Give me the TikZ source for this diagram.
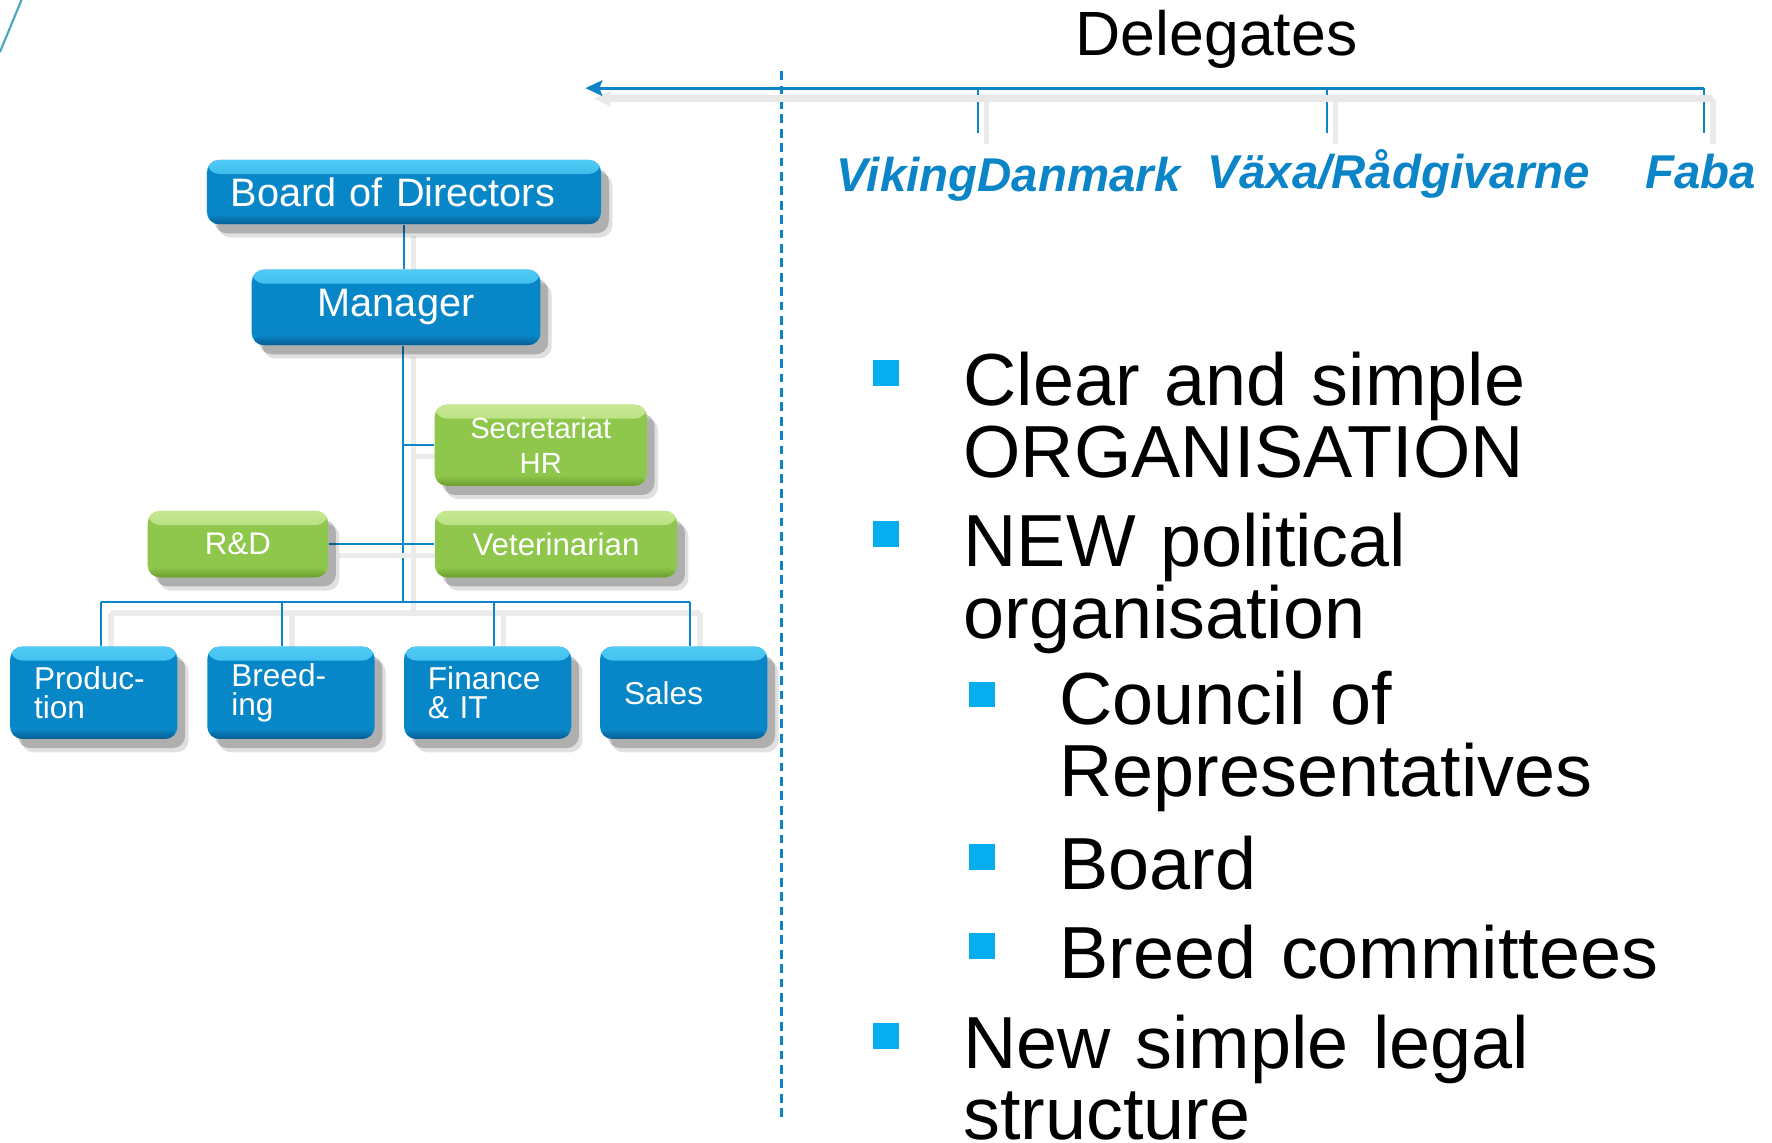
\documentclass[tikz,border=0pt]{standalone}
\usepackage{fontspec}
\setmainfont{Liberation Sans}
\usetikzlibrary{arrows.meta,shadows,backgrounds}
\definecolor{orgblue}{HTML}{0887C8}
\definecolor{orgbluehi}{HTML}{4FCBF6}
\definecolor{orgbluelo}{HTML}{085E92}
\definecolor{orggreen}{HTML}{8EC74C}
\definecolor{orggreenhi}{HTML}{C6E892}
\definecolor{orggreenlo}{HTML}{6B9C2E}
\definecolor{linkblue}{HTML}{0B85C7}
\definecolor{bulletcyan}{HTML}{07AEEF}
\definecolor{cornerteal}{HTML}{4BA5B8}

\begin{document}
\begin{tikzpicture}[x=0.0113cm, y=0.0113cm,
  every node/.append style={inner sep=0pt},
  orgbox/.style={rounded corners=3.5pt, text=white,
    drop shadow={shadow xshift=3.2pt, shadow yshift=-3.8pt, opacity=0.12, fill=black},
    drop shadow={shadow xshift=2.2pt, shadow yshift=-2.6pt, opacity=0.22, fill=black}},
  bevel/.style n args={3}{fill=#2, path picture={
    \shade[top color=#1, bottom color=#2] (path picture bounding box.north west) rectangle ([yshift=-4pt]path picture bounding box.north east);
    \shade[top color=#2, bottom color=#3] ([yshift=3pt]path picture bounding box.south west) rectangle (path picture bounding box.south east);}},
  bluebox/.style={orgbox, bevel={orgbluehi}{orgblue}{orgbluelo}},
  greenbox/.style={orgbox, bevel={orggreenhi}{orggreen}{orggreenlo}, font=\fontsize{8.9}{10}\selectfont},
  unitbox/.style={bluebox, minimum width=47.6pt, minimum height=26.3pt, text width=34pt,
    inner xsep=6.8pt, align=left, font=\fontsize{9}{8.4}\selectfont},
  conn/.style={draw=linkblue, line width=0.55pt,
    preaction={draw=black!8, line width=1.5pt, transform canvas={shift={(2.8pt,-3.2pt)}}}},
  delegarrow/.style={draw=linkblue, line width=0.9pt, -{Stealth[length=4.8pt, width=4.4pt, inset=0.8pt]},
    preaction={draw=black!9, line width=2pt, transform canvas={shift={(2.5pt,-3pt)}}}},
  tick/.style={draw=linkblue, line width=0.6pt,
    preaction={draw=black!8, line width=1.5pt, transform canvas={shift={(2.5pt,-3pt)}}}},
  divider/.style={draw=linkblue, line width=0.7pt, dash pattern=on 2.5pt off 1.6pt},
  delegate/.style={text=linkblue, anchor=base west, font=\fontsize{13.5}{16}\selectfont\bfseries\itshape},
  sqbullet/.style={fill=bulletcyan, minimum size=7.3pt},
  itemtext/.style={anchor=base west, text width=9cm, align=left, font=\fontsize{21}{20.4}\selectfont}]
\useasboundingbox (0,0) rectangle (1568,-1011);
\draw [cornerteal, line width=0.6pt] (0,-46) -- (19,0);

\node [bluebox, minimum width=112.2pt, minimum height=18.3pt, text width=98.7pt, inner xsep=6.75pt,
  align=left, font=\fontsize{11.3}{13}\selectfont] (board) at (357.5,-170) {Board of Directors};
\node [bluebox, minimum width=82.2pt, minimum height=21.5pt, font=\fontsize{11.3}{13}\selectfont] (manager) at (350.5,-272) {Manager};
\node [greenbox, minimum width=60.4pt, minimum height=23.1pt, align=center, font=\fontsize{8.3}{10}\selectfont] (secr) at (478.5,-394) {Secretariat\\HR};
\node [greenbox, minimum width=51.4pt, minimum height=18.9pt] (rnd) at (210.5,-481.5) {R\&D};
\node [greenbox, minimum width=69pt, minimum height=18.9pt] (vet) at (492,-481.5) {Veterinarian};
\node [unitbox] (prod) at (83,-613) {Produc-\\tion};
\node [unitbox] (breed) at (257.5,-613) {Breed-\\ing};
\node [unitbox] (fin) at (431.5,-613) {Finance\\\& IT};
\node [unitbox] (sales) at (605,-613) {Sales};

\coordinate (hub) at (357,-532.4);
\coordinate (d1) at (89.4,-532.4);
\coordinate (d2) at (249.6,-532.4);
\coordinate (d3) at (437,-532.4);
\coordinate (d4) at (610.8,-532.4);
\begin{scope}[on background layer]
\draw [conn] (board.south) -- (board.south |- manager.north);
\draw [conn] (manager.south -| hub) -- (hub);
\draw [conn] (secr.west) -- (secr.west -| hub);
\draw [conn] (rnd.east) -- (vet.west);
\draw [conn] (d1) -- (d4);
\draw [conn] (d1) -- (d1 |- prod.north);
\draw [conn] (d2) -- (d2 |- breed.north);
\draw [conn] (d3) -- (d3 |- fin.north);
\draw [conn] (d4) -- (d4 |- sales.north);
\end{scope}

\coordinate (divtop) at (691.5,-63);
\coordinate (divbot) at (691.5,-990);
\draw [divider] (divtop) -- (divbot);

\node [anchor=base, font=\fontsize{17.8}{20}\selectfont] (delegates) at (1076.5,-48.7) {Delegates};
\coordinate (arrowend) at (1508,-78);
\coordinate (arrowtip) at (518,-78);
\coordinate (t1) at (865,-118);
\coordinate (t2) at (1174,-118);
\coordinate (t3) at (1508,-118);
\draw [tick] (t1 |- arrowend) -- (t1);
\draw [tick] (t2 |- arrowend) -- (t2);
\draw [tick] (arrowend) -- (t3);
\draw [delegarrow] (arrowend) -- (arrowtip);
\node [delegate] (viking) at (740,-169.6) {VikingDanmark};
\node [delegate] (vaxa) at (1068,-166.6) {Växa/Rådgivarne};
\node [delegate] (faba) at (1455,-166.6) {Faba};

\node [sqbullet] (b1) at (784,-330) {};
\node [itemtext] (i1) at (852,-359) {Clear and simple\\ORGANISATION};
\node [sqbullet] (b2) at (784,-472.6) {};
\node [itemtext] (i2) at (852,-501.4) {NEW political\\organisation};
\node [sqbullet] (b3) at (869,-614.5) {};
\node [itemtext] (i3) at (937,-641.5) {Council of\\Representatives};
\node [sqbullet] (b4) at (869,-758.5) {};
\node [itemtext] (i4) at (937,-787) {Board};
\node [sqbullet] (b5) at (869,-837.3) {};
\node [itemtext] (i5) at (937,-865.7) {Breed committees};
\node [sqbullet] (b6) at (784,-916.5) {};
\node [itemtext] (i6) at (852,-945.3) {New simple legal\\structure};
\end{tikzpicture}
\end{document}
